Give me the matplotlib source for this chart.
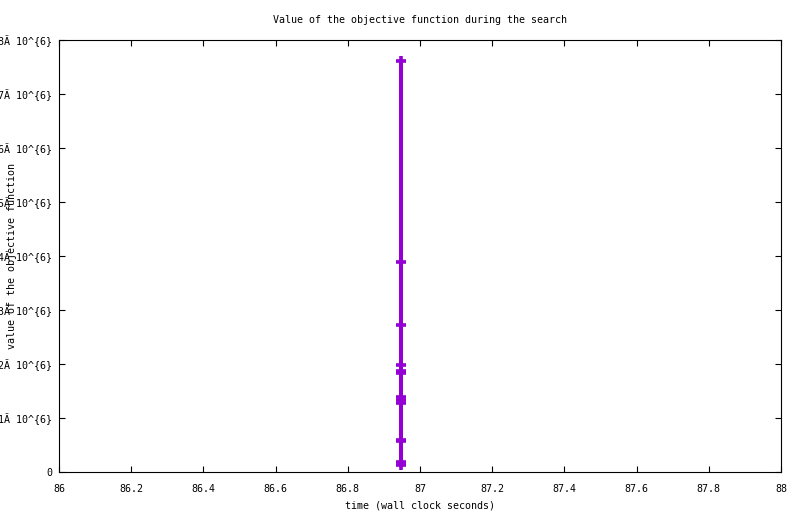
import matplotlib
matplotlib.use("Agg")
import matplotlib.pyplot as plt

# all samples were logged at the same wall clock time
times = [86.9465] * 13
objective = [7.617e6, 3.894e6, 2.722e6, 1.98e6, 1.87e6, 1.83e6,
             1.39e6, 1.333e6, 1.28e6, 0.60e6, 0.565e6, 0.19e6, 0.125e6]

x_ticks = [86, 86.2, 86.4, 86.6, 86.8, 87, 87.2, 87.4, 87.6, 87.8, 88]
x_labels = ["86", "86.2", "86.4", "86.6", "86.8", "87", "87.2", "87.4",
            "87.6", "87.8", "88"]
y_ticks = [0, 1e6, 2e6, 3e6, 4e6, 5e6, 6e6, 7e6, 8e6]
y_labels = ["0"] + [f"{i}Ã 10^{{6}}" for i in range(1, 9)]

plt.rcParams['font.family'] = ['DejaVu Sans Mono']
fs = 7.2

fig = plt.figure(figsize=(8.0, 5.14), dpi=100)
ax = fig.add_axes([59 / 800, 1 - 472 / 514, (781 - 59) / 800, (472 - 40) / 514])

ax.plot(times, objective, color='#9400D3', linewidth=2.9, marker='+',
        markersize=7.6, markeredgewidth=2.6)

ax.set_xlim(86, 88)
ax.set_ylim(0, 8e6)
ax.set_xticks(x_ticks)
ax.set_xticklabels(x_labels, fontsize=fs)
ax.set_yticks(y_ticks)
ax.set_yticklabels(y_labels, fontsize=fs)
ax.tick_params(direction='in', length=4.3, width=0.8, top=True, right=True)
ax.tick_params(axis='x', pad=8.5)
ax.tick_params(axis='y', pad=5)
for s in ax.spines.values():
    s.set_linewidth(0.8)

ax.set_title('Value of the objective function during the search', fontsize=fs, pad=12.5)
ax.set_xlabel('time (wall clock seconds)', fontsize=fs, labelpad=4.5)
fig.text(12 / 800, 1 - 256 / 514, 'value of the objective function', fontsize=fs,
         rotation=90, ha='center', va='center')

fig.savefig('out.png', dpi=100)
